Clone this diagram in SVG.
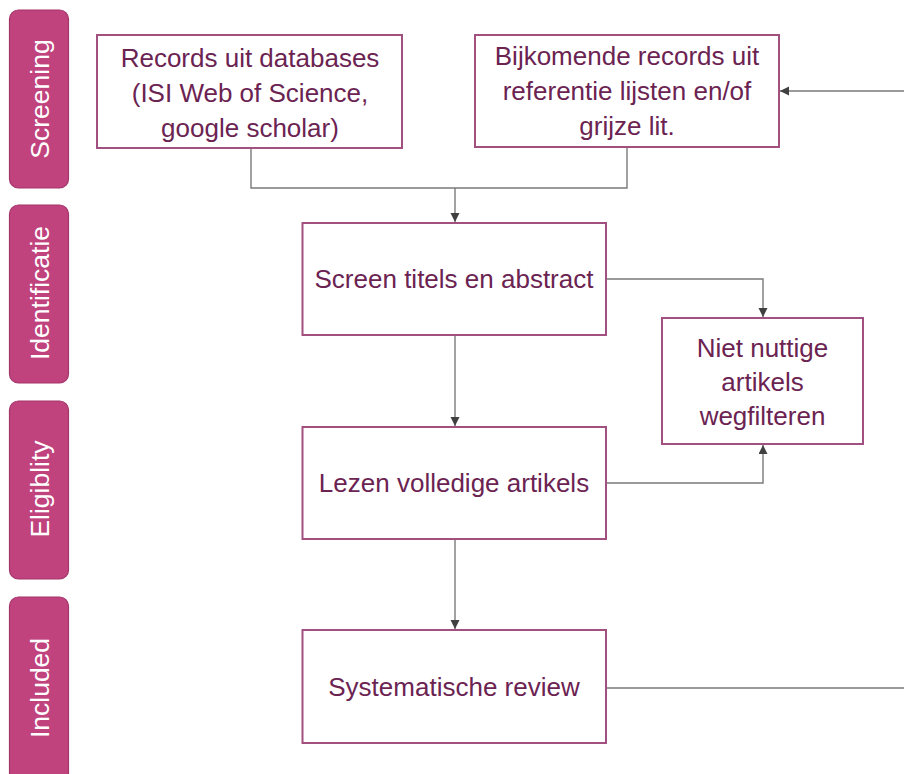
<svg xmlns="http://www.w3.org/2000/svg" width="904" height="774" viewBox="0 0 904 774">
  <defs>
    <marker id="arr" markerUnits="userSpaceOnUse" markerWidth="10" markerHeight="10" refX="9" refY="4.5" orient="auto">
      <path d="M0,0 L9,4.5 L0,9 z" fill="#404040"/>
    </marker>
    <style>
      .tab { fill: #c0437e; stroke: #a3356b; stroke-width: 1.2; }
      .tabtxt { fill: #ffffff; font-family: "Liberation Sans", Arial, sans-serif; font-size: 26.5px; text-anchor: middle; }
      .box { fill: #ffffff; stroke: #a1507f; stroke-width: 2; }
      .txt { fill: #6b2352; font-family: "Liberation Sans", Arial, sans-serif; font-size: 26px; text-anchor: middle; }
      .conn { fill: none; stroke: #7a7a7a; stroke-width: 1.4; }
    </style>
  </defs>
  <rect width="904" height="774" fill="#ffffff"/>

  <g id="tab-screening">
    <rect class="tab" x="9.5" y="10" width="59" height="178" rx="9"/>
    <text class="tabtxt" transform="translate(48.5,99) rotate(-90)">Screening</text>
  </g>
  <g id="tab-identificatie">
    <rect class="tab" x="9.5" y="205" width="59" height="178" rx="9"/>
    <text class="tabtxt" transform="translate(48.5,293) rotate(-90)">Identificatie</text>
  </g>
  <g id="tab-eligiblity">
    <rect class="tab" x="9.5" y="401" width="59" height="178" rx="9"/>
    <text class="tabtxt" transform="translate(48.5,489) rotate(-90)">Eligiblity</text>
  </g>
  <g id="tab-included">
    <rect class="tab" x="9.5" y="597" width="59" height="185" rx="9"/>
    <text class="tabtxt" transform="translate(48.5,688) rotate(-90)">Included</text>
  </g>

  <g id="connectors">
    <path class="conn" d="M251 148 V188 H627 V147"/>
    <path class="conn" d="M455 188 V222" marker-end="url(#arr)"/>
    <path class="conn" d="M606 279 H763 V317" marker-end="url(#arr)"/>
    <path class="conn" d="M606 483 H763 V445" marker-end="url(#arr)"/>
    <path class="conn" d="M455 335 V426" marker-end="url(#arr)"/>
    <path class="conn" d="M455 539 V629" marker-end="url(#arr)"/>
    <path class="conn" d="M606 688 H930 V91 H780" marker-end="url(#arr)"/>
  </g>

  <g id="node-records">
    <rect class="box" x="97" y="35" width="305" height="113"/>
    <text class="txt" x="250" y="67">Records uit databases</text>
    <text class="txt" x="250" y="102">(ISI Web of Science,</text>
    <text class="txt" x="250" y="137">google scholar)</text>
  </g>
  <g id="node-bijkomende">
    <rect class="box" x="475" y="35" width="304" height="112"/>
    <text class="txt" x="627" y="65">Bijkomende records uit</text>
    <text class="txt" x="627" y="100">referentie lijsten en/of</text>
    <text class="txt" x="627" y="135">grijze lit.</text>
  </g>
  <g id="node-screen">
    <rect class="box" x="302.5" y="223" width="303.5" height="112"/>
    <text class="txt" x="454" y="288">Screen titels en abstract</text>
  </g>
  <g id="node-niet">
    <rect class="box" x="662" y="318" width="201" height="126"/>
    <text class="txt" x="762.5" y="357">Niet nuttige</text>
    <text class="txt" x="762.5" y="391">artikels</text>
    <text class="txt" x="762.5" y="425">wegfilteren</text>
  </g>
  <g id="node-lezen">
    <rect class="box" x="302.5" y="427" width="303.5" height="112"/>
    <text class="txt" x="454" y="492">Lezen volledige artikels</text>
  </g>
  <g id="node-systematische">
    <rect class="box" x="302.5" y="630" width="303.5" height="113"/>
    <text class="txt" x="454" y="696">Systematische review</text>
  </g>
</svg>
